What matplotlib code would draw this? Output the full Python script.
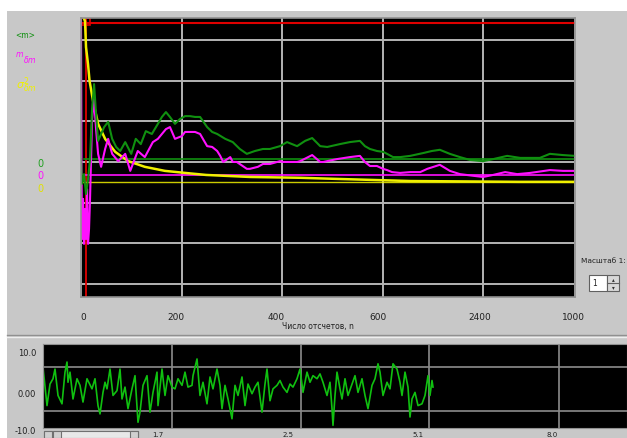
import numpy as np
import matplotlib
matplotlib.use('Agg')
import matplotlib.pyplot as plt
from matplotlib.patches import Rectangle
from matplotlib.lines import Line2D
import matplotlib.transforms as mtransforms

W, H = 627, 439

# ---- main chart data (x = число отсчетов, y in grid units) ----
m_x = [0, 2, 6, 10, 14, 18, 22, 26, 30, 34, 40, 46, 54, 62, 70, 78, 88, 100, 109, 119,
       129, 141, 153, 161, 169, 177, 187, 197, 207, 217, 227, 237, 251, 261, 271, 287,
       302, 316, 330, 346, 362, 376, 396, 410, 430, 446, 460, 476, 490, 515, 535, 555,
       565, 575, 589, 601, 609, 621, 635, 655, 681, 698, 714, 734, 754, 774, 800, 820,
       848, 874, 913, 933, 959, 983]
m_y = [0.07, -0.54, -0.30, -0.79, -0.42, 0.07, 1.31, 1.92, 1.18, 0.52, 0.69, 0.86, 0.99,
       0.57, 0.37, 0.27, 0.49, 0.20, 0.57, 0.44, 0.76, 0.69, 0.94, 1.11, 1.23, 1.11, 0.94,
       1.06, 1.13, 1.13, 1.11, 1.11, 0.86, 0.74, 0.69, 0.57, 0.49, 0.32, 0.20, 0.27, 0.32,
       0.32, 0.39, 0.49, 0.39, 0.52, 0.59, 0.39, 0.37, 0.44, 0.49, 0.52, 0.39, 0.32, 0.27,
       0.25, 0.20, 0.12, 0.12, 0.15, 0.22, 0.27, 0.30, 0.20, 0.12, 0.05, 0.02, 0.07, 0.15,
       0.10, 0.10, 0.20, 0.17, 0.15]

dm_x = [0, 1, 2, 4, 6, 8, 10, 12, 14, 16, 18, 20, 22, 26, 30, 34, 40, 48, 54, 62, 74, 88,
        98, 113, 127, 143, 153, 169, 177, 187, 201, 207, 217, 227, 237, 251, 261, 271, 277,
        283, 297, 302, 310, 330, 336, 352, 362, 376, 396, 402, 430, 436, 460, 476, 482, 509,
        535, 555, 565, 575, 589, 601, 609, 619, 635, 655, 675, 689, 714, 734, 754, 780, 800,
        820, 844, 868, 894, 933, 959, 983]
dm_y = [3.50, -0.05, -1.90, -0.91, -2.02, -1.16, -1.90, -0.67, -2.02, -1.65, -0.91, 0.07,
        1.06, 1.55, 0.81, 0.20, -0.12, 0.32, 0.57, 0.20, 0.02, 0.20, -0.22, 0.27, 0.12, 0.49,
        0.57, 0.81, 0.86, 0.57, 0.64, 0.74, 0.74, 0.74, 0.69, 0.39, 0.37, 0.27, 0.15, 0.00,
        0.12, 0.00, 0.00, -0.17, -0.17, -0.12, -0.05, -0.05, 0.02, 0.00, 0.00, 0.02, 0.17,
        0.00, 0.00, 0.07, 0.12, 0.15, 0.00, -0.10, -0.10, -0.17, -0.20, -0.25, -0.27, -0.25,
        -0.25, -0.17, -0.07, -0.22, -0.30, -0.34, -0.37, -0.32, -0.25, -0.30, -0.27, -0.20,
        -0.22, -0.22]

s2_x = [4, 8, 10, 14, 17, 24, 34, 48, 68, 94, 127, 167, 207, 249, 336, 436, 515, 655, 870, 983]
s2_y = [3.60, 3.47, 2.83, 2.41, 2.00, 1.50, 0.94, 0.57, 0.25, 0.02, -0.12, -0.22, -0.27,
        -0.32, -0.37, -0.39, -0.42, -0.47, -0.49, -0.49]

zero_levels = {'m': 0.07, 'dm': -0.32, 's2': -0.49}
red_level = 3.42
red_pos = 9

x_ticks = [0, 200, 400, 600, 800, 983]
x_labels = ['0', '200', '400', '600', '2400', '1000']

# ---- lower chart data (signal) ----
sig_t = [0, 4, 7, 10, 12, 15, 19, 22, 24, 25, 27, 30, 34, 37, 40, 44, 49, 52, 55, 57, 60,
         62, 64, 67, 70, 74, 77, 79, 82, 85, 89, 92, 95, 97, 100, 104, 107, 110, 114, 115,
         119, 122, 125, 129, 132, 135, 139, 142, 145, 149, 150, 154, 157, 160, 164, 167,
         170, 174, 177, 179, 182, 185, 189, 192, 195, 199, 202, 205, 209, 212, 215, 219,
         222, 224, 227, 230, 234, 237, 240, 244, 247, 250, 254, 257, 260, 264, 267, 270,
         274, 277, 280, 284, 287, 289, 290, 292, 294, 297, 299, 302, 305, 309, 312, 315,
         319, 322, 325, 329, 332, 335, 337, 340, 344, 347, 350, 354, 357, 359, 362, 365,
         367, 369, 372, 375, 379, 382, 385, 387, 389, 390]
sig_v = [4.9, -3.8, 1.1, 2.3, 4.5, -1.5, -3.4, 3.8, 6.1, 1.5, 3.8, -2.3, 2.3, 0.8, -3.0,
         2.3, 0.0, 2.3, -3.8, -5.7, -0.8, 1.5, 0.0, 4.5, -1.5, -0.4, 4.5, -2.3, 0.4, -4.5,
         0.0, 3.0, -7.6, -5.3, 0.8, 3.0, -5.3, -0.8, 3.8, -3.8, 4.5, -1.5, 3.0, 0.4, 0.0,
         2.3, 0.8, 3.8, 0.4, 0.8, 3.0, 6.8, -1.5, 1.5, -3.4, 2.7, 0.0, 4.5, 0.8, -4.5, 0.8,
         -2.3, -6.8, 0.8, -1.5, 2.7, -3.8, 1.1, -1.1, 0.4, 1.5, -5.3, 1.1, 4.5, -2.7, 0.0,
         0.8, 1.9, 0.4, -0.8, 1.1, 0.4, 2.3, 4.5, -0.8, 3.8, 1.5, 3.0, 2.3, 3.4, 1.5, -1.5,
         1.5, -4.5, -8.3, -1.5, 3.8, 0.0, -2.3, 2.3, -1.5, 1.1, 3.0, -0.8, 2.3, -1.5, -4.5,
         0.8, 2.3, 5.7, 3.8, -1.5, 1.5, 0.0, 5.7, 4.5, 1.5, -1.5, 3.8, 0.4, -6.4, -2.3, -0.8,
         -3.8, -3.4, -1.5, 3.0, -1.5, 1.9, 0.4]
sig_grid = [129, 258, 386, 516]
sig_labels = ['1.7', '2.5', '5.1', '8.0']
sig_ylabels = ['10.0', '0.00', '-10.0']

BG = '#c8c8c8'
GRID = '#b4b4b4'
GREEN = '#109010'
MAG = '#ff10ff'
YEL = '#f0f000'
RED = '#e00000'


def fx(px):
    return px / W


def fy(py):
    return 1 - py / H


fig = plt.figure(figsize=(W / 100, H / 100), dpi=100)
fig.patch.set_facecolor(BG)
fig.add_artist(Rectangle((0, fy(12)), 1, 12 / H, transform=fig.transFigure,
                         facecolor='white', edgecolor='none'))
fig.add_artist(Rectangle((0, 0), 7 / W, 1, transform=fig.transFigure,
                         facecolor='white', edgecolor='none'))

# ---- main chart ----
ax = fig.add_axes([fx(81), fy(298), fx(575 - 81), (298 - 19) / H])
ax.set_facecolor('black')
ax.set_xlim(0, 983)
ax.set_ylim(-3.33, 3.55)
ax.set_yticks([-3, -2, -1, 0, 1, 2, 3])
ax.set_yticklabels([])
ax.set_xticks(x_ticks)
ax.set_xticklabels(x_labels, fontsize=6.5, color='#202020')
ax.tick_params(length=0, pad=11)
offs = [2, -6, -6, -5, -3, -2]
for lab, o in zip(ax.get_xticklabels(), offs):
    lab.set_transform(lab.get_transform() +
                      mtransforms.ScaledTranslation(o / 100, 0, fig.dpi_scale_trans))
ax.grid(True, color=GRID, lw=1.4)
ax.set_axisbelow(True)
for sp in ax.spines.values():
    sp.set_color('#909090')
    sp.set_linewidth(1.2)

ax.axhline(red_level, color=RED, lw=1.5)
ax.axvline(red_pos, color=RED, lw=1.3)
ax.add_patch(Rectangle((0, 3.37), 18, 0.18, fill=False, edgecolor=RED, lw=1.2))
ax.axhline(zero_levels['m'], xmin=6 / 983, color=GREEN, lw=1.2)
ax.axhline(zero_levels['dm'], color=MAG, lw=1.2)
ax.axhline(zero_levels['s2'], color=YEL, lw=1.0, alpha=0.85)

ax.plot(s2_x, s2_y, color=YEL, lw=1.8)
ax.plot(dm_x, dm_y, color=MAG, lw=1.5)
ax.plot(m_x, m_y, color=GREEN, lw=1.5)

# legend-like labels on the left
fig.text(fx(25), fy(35), r'<m>', color=GREEN, fontsize=5.5, ha='center', va='center')
fig.text(fx(26), fy(58), r'${}^{m}{}_{\delta m}$', color=MAG, fontsize=8,
         ha='center', va='center')
fig.text(fx(26), fy(85), r'$\sigma^{2}_{\delta m}$', color=YEL, fontsize=8,
         ha='center', va='center')
fig.text(fx(40), fy(164), '0', color='#20a020', fontsize=7, ha='center', va='center')
fig.text(fx(40), fy(176), '0', color=MAG, fontsize=7, ha='center', va='center')
fig.text(fx(40), fy(189), '0', color='#e0e000', fontsize=7, ha='center', va='center')

fig.text(fx(318), fy(326), 'Число отсчетов, n', color='#202020', fontsize=5.5,
         ha='center', va='center')
fig.text(fx(581), fy(261), 'Масштаб 1:', color='#202020', fontsize=5.3, ha='left',
         va='center')
fig.add_artist(Rectangle((fx(589), fy(292)), fx(18), 16 / H, transform=fig.transFigure,
                         facecolor='white', edgecolor='#606060', lw=0.8))
fig.text(fx(592), fy(284), '1', fontsize=5.5, color='#202020', ha='left', va='center')
fig.add_artist(Rectangle((fx(607), fy(292)), fx(12), 16 / H, transform=fig.transFigure,
                         facecolor='#d8d8d8', edgecolor='#606060', lw=0.8))
fig.add_artist(Line2D([fx(607), fx(619)], [fy(284), fy(284)], transform=fig.transFigure,
                      color='#606060', lw=0.8))
fig.text(fx(613), fy(280), '▴', fontsize=4, ha='center', va='center', color='#303030')
fig.text(fx(613), fy(288), '▾', fontsize=4, ha='center', va='center', color='#303030')

# separator
fig.add_artist(Line2D([fx(7), 1], [fy(336), fy(336)], transform=fig.transFigure,
                      color='#909090', lw=1.0))
fig.add_artist(Line2D([fx(7), 1], [fy(338), fy(338)], transform=fig.transFigure,
                      color='#eeeeee', lw=1.0))

# ---- lower chart ----
bx = fig.add_axes([fx(43), fy(429), 1 - fx(43), (429 - 345) / H])
bx.set_facecolor('black')
bx.set_xlim(0, 584)
bx.set_ylim(-8.9, 10.2)
bx.set_xticks(sig_grid)
bx.set_yticks([-5, 5])
bx.set_xticklabels([])
bx.set_yticklabels([])
bx.tick_params(length=0)
bx.grid(True, color='#8c8c8c', lw=1.2)
bx.set_axisbelow(True)
for sp in bx.spines.values():
    sp.set_color('#909090')
bx.plot(sig_t, sig_v, color='#10c010', lw=1.2)

for lab, py in zip(sig_ylabels, [354, 395, 432]):
    fig.text(fx(36), fy(py), lab, fontsize=6, color='#202020', ha='right', va='center')
for lab, px in zip(sig_labels, [158, 288, 418, 552]):
    fig.text(fx(px), fy(438.5), lab, fontsize=5, color='#202020', ha='center',
             va='bottom')

# scrollbar
fig.add_artist(Rectangle((fx(44), 0), fx(94), 7 / H, transform=fig.transFigure,
                         facecolor='#e8e8e8', edgecolor='#707070', lw=0.8))
fig.add_artist(Rectangle((fx(44), 0), fx(8), 7 / H, transform=fig.transFigure,
                         facecolor='#d0d0d0', edgecolor='#707070', lw=0.8))
fig.add_artist(Rectangle((fx(130), 0), fx(8), 7 / H, transform=fig.transFigure,
                         facecolor='#d0d0d0', edgecolor='#707070', lw=0.8))
fig.add_artist(Rectangle((fx(53), 0), fx(8), 7 / H, transform=fig.transFigure,
                         facecolor='#d0d0d0', edgecolor='#707070', lw=0.8))

fig.savefig('out.png', dpi=100, facecolor=fig.get_facecolor())
